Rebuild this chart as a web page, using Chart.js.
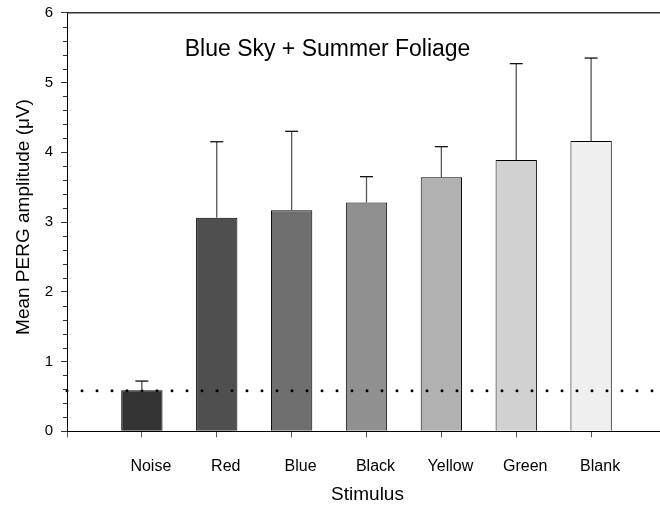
<!DOCTYPE html>
<html>
<head>
<meta charset="utf-8">
<script src="https://cdn.jsdelivr.net/npm/chart.js@4.4.1/dist/chart.umd.min.js"></script>
<style>
  html, body { margin: 0; padding: 0; background: #fff; }
  canvas { display: block; }
</style>
</head>
<body>
<canvas id="c" width="660" height="508"></canvas>
<script>
// ---- data ----
const categories = ['Noise', 'Red', 'Blue', 'Black', 'Yellow', 'Green', 'Blank'];
const means = [0.59, 3.06, 3.17, 3.28, 3.64, 3.89, 4.16];
const errorsUp = [0.13, 1.09, 1.13, 0.37, 0.44, 1.38, 1.19];
const noiseLevel = 0.58;
const yTickValues = [0, 1, 2, 3, 4, 5, 6];
const barColors = ['#333333', '#4f4f4f', '#6f6f6f', '#909090', '#b1b1b1', '#d1d1d1', '#efefef'];
const chartTitle = 'Blue Sky + Summer Foliage';
const xTitle = 'Stimulus';
const yTitle = 'Mean PERG amplitude (\u03BCV)';
const X_MAX = 7.92;

const FONT = '"Liberation Sans", Arial, sans-serif';

const barData = categories.map((c, i) => ({ x: i + 1, y: means[i] }));
const lineData = [{ x: 0, y: noiseLevel }, { x: X_MAX, y: noiseLevel }];

const decor = {
  id: 'decor',
  afterDatasetsDraw(chart) {
    const { ctx, scales: { x, y } } = chart;
    ctx.save();
    means.forEach((m, i) => {
      const px = x.getPixelForValue(i + 1);
      const pTop = y.getPixelForValue(m);
      const pErr = y.getPixelForValue(m + errorsUp[i]);
      ctx.strokeStyle = '#555';
      ctx.lineWidth = 1.3;
      ctx.beginPath();
      ctx.moveTo(px, pTop);
      ctx.lineTo(px, pErr);
      ctx.stroke();
      ctx.strokeStyle = '#111';
      ctx.beginPath();
      ctx.moveTo(px - 6.5, pErr);
      ctx.lineTo(px + 6.5, pErr);
      ctx.stroke();
    });
    ctx.restore();
  },
  afterDraw(chart) {
    const { ctx, scales: { x, y }, chartArea } = chart;
    ctx.save();
    // minor ticks on y axis
    ctx.strokeStyle = '#333';
    ctx.lineWidth = 1;
    for (let k = 0; k <= 30; k++) {
      if (k % 5 === 0) continue;
      const py = Math.round(y.getPixelForValue(k / 5)) + 0.5;
      ctx.beginPath();
      ctx.moveTo(chartArea.left - 4, py);
      ctx.lineTo(chartArea.left, py);
      ctx.stroke();
    }
    // top frame line
    ctx.strokeStyle = '#333';
    ctx.lineWidth = 1.5;
    ctx.beginPath();
    ctx.moveTo(chartArea.left, chartArea.top);
    ctx.lineTo(chartArea.right, chartArea.top);
    ctx.stroke();
    // chart title inside plot
    ctx.fillStyle = '#000';
    ctx.font = '23px ' + FONT;
    ctx.textAlign = 'center';
    ctx.textBaseline = 'alphabetic';
    ctx.fillText(chartTitle, x.getPixelForValue(3.48), 56);
    // x title
    ctx.font = '19px ' + FONT;
    ctx.fillText(xTitle, (chartArea.left + chartArea.right) / 2 + 4, 500);
    // y title
    ctx.translate(29, (chartArea.top + chartArea.bottom) / 2 - 5);
    ctx.rotate(-Math.PI / 2);
    ctx.fillText(yTitle, 0, 0);
    ctx.restore();
  }
};

new Chart(document.getElementById('c'), {
  type: 'bar',
  data: {
    datasets: [
      {
        type: 'line',
        data: lineData,
        borderColor: '#000',
        borderWidth: 3,
        borderDash: [0, 15],
        borderCapStyle: 'round',
        pointRadius: 0,
        fill: false,
        clip: 4,
        order: 0
      },
      {
        type: 'bar',
        data: barData,
        backgroundColor: barColors,
        borderColor: '#000',
        borderWidth: 1,
        barPercentage: 0.6,
        categoryPercentage: 1,
        order: 1
      }
    ]
  },
  options: {
    responsive: false,
    animation: false,
    devicePixelRatio: 1,
    layout: { padding: { top: 12.7, left: 0, right: 0, bottom: 0 } },
    plugins: { legend: { display: false }, tooltip: { enabled: false }, title: { display: false } },
    scales: {
      x: {
        type: 'linear',
        min: 0,
        max: X_MAX,
        offset: false,
        afterFit(s) { s.height = 76.7; s.paddingLeft = 0; s.paddingRight = 0; },
        grid: { offset: false, drawOnChartArea: false, drawTicks: true, tickLength: 6, color: '#555' },
        border: { display: true, color: '#000', width: 1 },
        ticks: {
          stepSize: 1,
          autoSkip: false,
          maxRotation: 0,
          padding: 20,
          labelOffset: 9,
          color: '#000',
          font: { family: FONT, size: 16 },
          callback: (v) => (v >= 1 && v <= categories.length && Number.isInteger(v)) ? categories[v - 1] : ''
        }
      },
      y: {
        min: 0,
        max: 6,
        afterFit(s) { s.width = 67; s.paddingTop = 0; s.paddingBottom = 0; },
        afterBuildTicks(s) { s.ticks = yTickValues.map(v => ({ value: v })); },
        grid: { drawOnChartArea: false, drawTicks: true, tickLength: 6, color: '#333' },
        border: { display: true, color: '#000', width: 1 },
        ticks: {
          padding: 8,
          color: '#000',
          font: { family: FONT, size: 15 }
        }
      }
    }
  },
  plugins: [decor]
});
</script>
</body>
</html>
